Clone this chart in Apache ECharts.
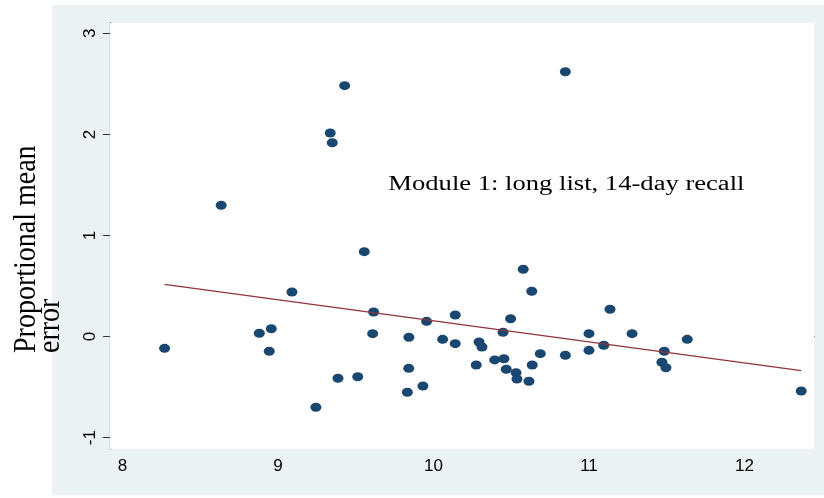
<!DOCTYPE html>
<html><head><meta charset="utf-8">
<script src="https://cdn.jsdelivr.net/npm/echarts@6/dist/echarts.min.js"></script>
<style>html,body{margin:0;padding:0;background:#fff}#c{width:824px;height:498px}</style>
</head><body><div id="c"></div>
<script>
// ---- data ----
const xTicks = [8, 9, 10, 11, 12];
const yTicks = [-1, 0, 1, 2, 3];
const xVals = [8.271, 8.635, 8.880, 8.957, 8.944, 9.090, 9.244, 9.336, 9.349, 9.429,
               9.386, 9.513, 9.555, 9.615, 9.609, 9.842, 9.841, 9.832, 9.932, 9.956,
               10.059, 10.140, 10.140, 10.293, 10.312, 10.275, 10.394, 10.453, 10.447, 10.496,
               10.468, 10.531, 10.537, 10.577, 10.632, 10.635, 10.614, 10.687, 10.848, 10.848,
               11.000, 11.000, 11.095, 11.135, 11.277, 11.484, 11.469, 11.495, 11.632, 12.365];
const yVals = [-0.116, 1.299, 0.033, 0.078, -0.145, 0.441, -0.699, 2.014, 1.918, 2.482,
               -0.412, -0.397, 0.840, 0.243, 0.029, -0.007, -0.314, -0.551, -0.489, 0.151,
               -0.027, 0.214, -0.070, -0.053, -0.103, -0.281, -0.231, -0.219, 0.043, 0.177,
               -0.323, -0.357, -0.419, 0.666, 0.448, -0.281, -0.442, -0.169, -0.185, 2.620,
               0.029, -0.136, -0.086, 0.270, 0.029, -0.145, -0.254, -0.308, -0.027, -0.538];
const fitX = [8.27, 12.365];
const fitY = [0.517, -0.337];
const yTitleLines = ['Proportional mean', 'error'];
const noteText = 'Module 1: long list, 14-day recall';
const notePos = [9.71, 1.5];

// ---- chart ----
const chart = echarts.init(document.getElementById('c'), null, {renderer: 'canvas'});
const axisCol = '#333333';
const gridCol = '#e8f0f2';
const bgCol = '#eaf2f3';

chart.setOption({
  animation: false,
  backgroundColor: '#ffffff',
  grid: {left: 110, right: 10, top: 22.7, bottom: 49, show: true,
         backgroundColor: '#ffffff', borderWidth: 0, z: 2},
  xAxis: {
    type: 'value', min: 7.92, max: 12.447,
    axisLine: {show: true, lineStyle: {color: axisCol, width: 1.2}},
    axisTick: {show: true, length: 6, lineStyle: {color: axisCol}, customValues: xTicks},
    axisLabel: {customValues: xTicks, margin: 9, color: '#000',
                fontFamily: 'Liberation Sans', fontSize: 17},
    splitLine: {show: false}
  },
  yAxis: {
    type: 'value', min: -1.112, max: 3.105,
    axisLine: {show: true, lineStyle: {color: axisCol, width: 1.2}},
    axisTick: {show: true, length: 7, lineStyle: {color: axisCol}, customValues: yTicks},
    axisLabel: {customValues: yTicks, rotate: 90, margin: 11, color: '#000',
                fontFamily: 'Liberation Sans', fontSize: 17},
    splitLine: {show: true, lineStyle: {color: gridCol, width: 1.2}}
  },
  series: [
    {type: 'scatter', symbol: 'circle', symbolSize: [11, 9],
     itemStyle: {color: '#1a476f', opacity: 1}, z: 3,
     data: xVals.map((x, i) => [x, yVals[i]])},
    {type: 'line', symbol: 'none', z: 4, silent: true,
     lineStyle: {color: '#90353b', width: 1.4},
     data: fitX.map((x, i) => [x, fitY[i]])}
  ]
});

const np = chart.convertToPixel({gridIndex: 0}, notePos);
chart.setOption({
  graphic: [
    {type: 'rect', id: 'bg', z: -100, silent: true,
     shape: {x: 52, y: 5, width: 772, height: 490}, style: {fill: bgCol}},
    {type: 'text', id: 'yt1', z: 100, x: 27, y: 353, rotation: Math.PI / 2, scaleY: 1.1,
     style: {text: yTitleLines[0], fill: '#000', font: '28px "Liberation Serif"',
             align: 'left', verticalAlign: 'middle'}},
    {type: 'text', id: 'yt2', z: 100, x: 51, y: 353, rotation: Math.PI / 2, scaleY: 1.1,
     style: {text: yTitleLines[1], fill: '#000', font: '28px "Liberation Serif"',
             align: 'left', verticalAlign: 'middle'}},
    {type: 'text', id: 'note', z: 100, x: np[0], y: np[1], scaleX: 1.33,
     style: {text: noteText, fill: '#000', font: '20px "Liberation Serif"',
             align: 'left', verticalAlign: 'middle'}}
  ]
});
</script></body></html>
